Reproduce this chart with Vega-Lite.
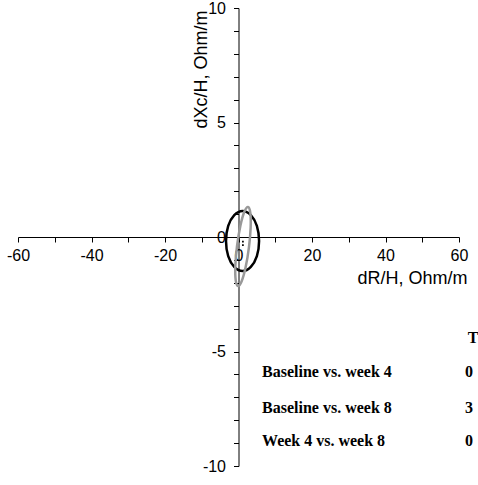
{
  "$schema": "https://vega.github.io/schema/vega-lite/v6.json",
  "width": 441,
  "height": 458,
  "autosize": "none",
  "padding": {"left": 18, "top": 8, "right": 19, "bottom": 19},
  "config": {"view": {"stroke": null}, "font": "Liberation Sans"},
  "datasets": {
    "black": [
      {"i": 0, "x": 5.6, "y": -0.17},
      {"i": 1, "x": 5.0, "y": 0.49},
      {"i": 2, "x": 3.35, "y": 0.96},
      {"i": 3, "x": 1.1, "y": 1.14},
      {"i": 4, "x": -1.15, "y": 0.96},
      {"i": 5, "x": -2.8, "y": 0.49},
      {"i": 6, "x": -3.4, "y": -0.17},
      {"i": 7, "x": -2.8, "y": -0.83},
      {"i": 8, "x": -1.15, "y": -1.3},
      {"i": 9, "x": 1.1, "y": -1.48},
      {"i": 10, "x": 3.35, "y": -1.3},
      {"i": 11, "x": 5.0, "y": -0.83}
    ],
    "gray": [
      {"i": 0, "x": 2.59, "y": 1.31},
      {"i": 1, "x": 3.21, "y": 1.06},
      {"i": 2, "x": 3.31, "y": 0.42},
      {"i": 3, "x": 2.84, "y": -0.45},
      {"i": 4, "x": 1.95, "y": -1.31},
      {"i": 5, "x": 0.86, "y": -1.93},
      {"i": 6, "x": -0.14, "y": -2.14},
      {"i": 7, "x": -0.76, "y": -1.89},
      {"i": 8, "x": -0.86, "y": -1.25},
      {"i": 9, "x": -0.39, "y": -0.38},
      {"i": 10, "x": 0.5, "y": 0.48},
      {"i": 11, "x": 1.59, "y": 1.1}
    ],
    "dots": [
      {"x": 1.2, "y": -0.2},
      {"x": 1.2, "y": -0.35}
    ],
    "table": [
      {"label": "T", "x": 62.4, "y": -4.41},
      {"label": "Baseline vs. week 4", "x": 6.4, "y": -5.9},
      {"label": "0", "x": 61.6, "y": -5.9},
      {"label": "Baseline vs. week 8", "x": 6.4, "y": -7.47},
      {"label": "3", "x": 61.6, "y": -7.47},
      {"label": "Week 4 vs. week 8", "x": 6.4, "y": -8.9},
      {"label": "0", "x": 61.6, "y": -8.9}
    ]
  },
  "layer": [
    {
      "data": {"name": "black"},
      "mark": {"type": "line", "interpolate": "cardinal-closed", "strokeWidth": 2.5, "color": "#000000"},
      "encoding": {
        "x": {
          "field": "x", "type": "quantitative",
          "scale": {"domain": [-60, 60], "nice": false, "zero": false},
          "axis": {
            "values": [-60, -50, -40, -30, -20, -10, 0, 10, 20, 30, 40, 50, 60],
            "tickCount": 100,
            "labelExpr": "datum.value % 20 == 0 ? '' + datum.value : ''",
            "offset": -229,
            "grid": false,
            "tickSize": 5,
            "tickColor": "#000000",
            "domainColor": "#000000",
            "labelColor": "#000000",
            "labelFontSize": 16,
            "labelPadding": 5,
            "labelFlush": false,
            "labelOverlap": false,
            "title": "dR/H, Ohm/m",
            "titleFontSize": 18,
            "titleFontWeight": "normal",
            "titleColor": "#000000",
            "titleX": 449,
            "titleY": 41,
            "titleAlign": "right",
            "titleBaseline": "middle"
          }
        },
        "y": {
          "field": "y", "type": "quantitative",
          "scale": {"domain": [-10, 10], "nice": false, "zero": false},
          "axis": {
            "values": [-10, -9, -8, -7, -6, -5, -4, -3, -2, -1, 0, 1, 2, 3, 4, 5, 6, 7, 8, 9, 10],
            "tickCount": 100,
            "labelExpr": "datum.value % 5 == 0 ? '' + datum.value : ''",
            "offset": -220.5,
            "grid": false,
            "tickSize": 5,
            "tickColor": "#000000",
            "domainColor": "#000000",
            "labelColor": "#000000",
            "labelFontSize": 16,
            "labelPadding": 8,
            "labelOverlap": false,
            "title": "dXc/H, Ohm/m",
            "titleFontSize": 18,
            "titleFontWeight": "normal",
            "titleColor": "#000000",
            "titleX": -37,
            "titleY": 2,
            "titleAngle": -90,
            "titleAlign": "right",
            "titleBaseline": "middle"
          }
        },
        "order": {"field": "i", "type": "quantitative"}
      }
    },
    {
      "data": {"name": "gray"},
      "mark": {"type": "line", "interpolate": "cardinal-closed", "strokeWidth": 2.5, "color": "#999999"},
      "encoding": {
        "x": {"field": "x", "type": "quantitative"},
        "y": {"field": "y", "type": "quantitative"},
        "order": {"field": "i", "type": "quantitative"}
      }
    },
    {
      "data": {"name": "dots"},
      "mark": {"type": "point", "shape": "square", "filled": true, "size": 3, "color": "#000000", "opacity": 1},
      "encoding": {
        "x": {"field": "x", "type": "quantitative"},
        "y": {"field": "y", "type": "quantitative"}
      }
    },
    {
      "data": {"name": "table"},
      "mark": {"type": "text", "font": "Liberation Serif", "fontWeight": "bold", "fontSize": 16, "align": "left", "baseline": "middle", "color": "#000000"},
      "encoding": {
        "x": {"field": "x", "type": "quantitative"},
        "y": {"field": "y", "type": "quantitative"},
        "text": {"field": "label"}
      }
    }
  ]
}
